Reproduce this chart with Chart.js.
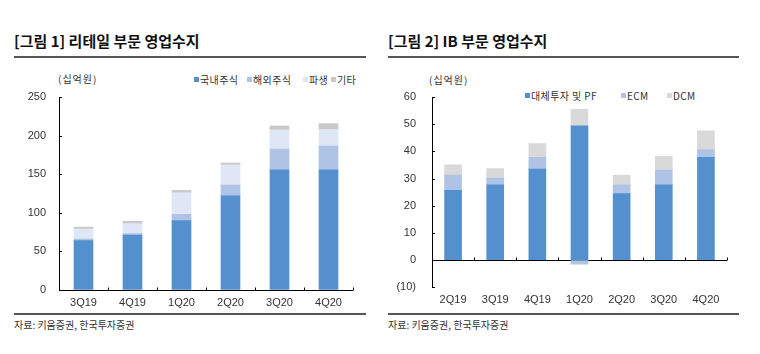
<!DOCTYPE html>
<html>
<head>
<meta charset="utf-8">
<script src="https://cdn.jsdelivr.net/npm/chart.js@4.4.1/dist/chart.umd.min.js"></script>
<style>
  body { margin: 0; background: #fff; }
  #wrap { position: relative; width: 760px; height: 354px; overflow: hidden; font-family: 'Noto Sans CJK KR', 'Liberation Sans', sans-serif; color: #222; }
  .title { position: absolute; top: 31px; font-size: 15px; font-weight: bold; line-height: 20px; color: #111; white-space: nowrap; }
  .rule { position: absolute; height: 2px; background: #555; }
  .unit { position: absolute; font-size: 10px; line-height: 12px; color: #333; letter-spacing: 1px; }
  .src { position: absolute; top: 318px; font-size: 10px; line-height: 14px; color: #333; }
  .leg { position: absolute; font-size: 10px; line-height: 12px; color: #333; white-space: nowrap; letter-spacing: 0.4px; }
  .leg i { display: inline-block; width: 5px; height: 5px; margin-right: 1px; vertical-align: 2px; }
  .box { position: absolute; top: 60px; width: 380px; height: 250px; }
  canvas { display: block; }
</style>
</head>
<body>
<div id="wrap">
  <div class="title" style="left:14px">[그림 1] 리테일 부문 영업수지</div>
  <div class="title" style="left:388px">[그림 2] IB 부문 영업수지</div>
  <div class="rule" style="left:14px;top:56px;width:352px"></div>
  <div class="rule" style="left:388px;top:56px;width:351px"></div>

  <div class="unit" style="left:58px;top:73px">(십억원)</div>
  <div class="unit" style="left:429px;top:74px">(십억원)</div>

  <div class="leg" style="left:194px;top:74px"><i style="background:#5490ce"></i>국내주식</div>
  <div class="leg" style="left:247px;top:74px"><i style="background:#aec3e6"></i>해외주식</div>
  <div class="leg" style="left:303px;top:74px"><i style="background:#dfe7f6"></i>파생</div>
  <div class="leg" style="left:331px;top:74px"><i style="background:#c9c9c9"></i>기타</div>

  <div class="leg" style="left:525px;top:90px"><i style="background:#5490ce"></i>대체투자 및 PF</div>
  <div class="leg" style="left:621px;top:90px"><i style="background:#aec3e6"></i>ECM</div>
  <div class="leg" style="left:667px;top:90px"><i style="background:#d9d9d9"></i>DCM</div>

  <div class="box" style="left:0"><canvas id="retailChart" width="380" height="250"></canvas></div>
  <div class="box" style="left:380px"><canvas id="ibChart" width="380" height="250"></canvas></div>

  <div class="rule" style="left:14px;top:313px;width:352px"></div>
  <div class="rule" style="left:388px;top:313px;width:351px"></div>
  <div class="src" style="left:14px">자료: 키움증권, 한국투자증권</div>
  <div class="src" style="left:388px">자료: 키움증권, 한국투자증권</div>
</div>

<script>
// ------------------------Data--------------------------------
const retailLabels = ['3Q19', '4Q19', '1Q20', '2Q20', '3Q20', '4Q20']
const retailDomestic = [64, 71, 90, 122, 155.5, 155.5]
const retailOverseas = [2, 2, 8, 14, 27, 31]
const retailDerivative = [13, 13, 28, 26, 25, 21.5]
const retailOther = [2.5, 3, 3, 2.5, 5, 7.5]
const retailTicks = [0, 50, 100, 150, 200, 250]

const ibLabels = ['2Q19', '3Q19', '4Q19', '1Q20', '2Q20', '3Q20', '4Q20']
const ibAltPf = [25.7, 27.7, 33.5, 49.4, 24.5, 27.7, 37.8]
const ibEcm = [5.6, 2.5, 4.3, -1.5, 3.2, 5.4, 2.9]
const ibDcm = [3.8, 3.5, 5.1, 6.1, 3.6, 5.2, 6.9]
const ibTicks = [-10, 0, 10, 20, 30, 40, 50, 60]

Chart.defaults.font.family = "'Liberation Sans', Arial, sans-serif"
Chart.defaults.color = '#333'

// ------------------------Small inward tick marks------------------------
const axisTicks = {
  id: 'axisTicks',
  afterDatasetsDraw(chart) {
    const { ctx, scales: { x, y } } = chart
    const base = Math.round(y.getPixelForValue(Math.max(0, y.min))) + 0.5
    ctx.save()
    ctx.strokeStyle = '#000'
    ctx.lineWidth = 1
    ctx.beginPath()
    y.ticks.forEach((t) => {
      const py = Math.round(y.getPixelForValue(t.value)) + 0.5
      ctx.moveTo(x.left, py)
      ctx.lineTo(x.left + 3, py)
    })
    const n = x.ticks.length
    for (let i = 1; i <= n; i++) {
      const px = i < n ? (x.getPixelForValue(i - 1) + x.getPixelForValue(i)) / 2 : x.right
      ctx.moveTo(Math.round(px) + 0.5, base)
      ctx.lineTo(Math.round(px) + 0.5, base - 3)
    }
    ctx.stroke()
    ctx.restore()
  }
}

// ------------------------Chart builder------------------------------------
const makeChart = (id, labels, datasets, ticks, axisWidth, padRight, barW, labelPad, fmt) => {
  return new Chart(document.getElementById(id), {
    type: 'bar',
    data: { labels, datasets },
    options: {
      responsive: false,
      animation: false,
      layout: { padding: { top: 37, right: padRight, left: 0, bottom: 0 } },
      plugins: { legend: { display: false }, tooltip: { enabled: false } },
      datasets: { bar: { barThickness: barW } },
      scales: {
        x: {
          stacked: true,
          grid: { display: false, drawTicks: false },
          border: { display: false },
          ticks: { font: { size: 11 }, padding: 6, color: '#333' },
          afterFit: (s) => { s.height = 20 }
        },
        y: {
          stacked: true,
          min: ticks[0],
          max: ticks[ticks.length - 1],
          afterBuildTicks: (s) => { s.ticks = ticks.map((v) => ({ value: v })) },
          grid: {
            drawTicks: false,
            color: (c) => (c.tick && c.tick.value === 0 ? '#000' : 'rgba(0,0,0,0)'),
            lineWidth: 1
          },
          border: { display: true, color: '#000', width: 1 },
          ticks: { font: { size: 11 }, padding: labelPad, color: '#333', callback: fmt },
          afterFit: (s) => { s.width = axisWidth }
        }
      }
    },
    plugins: [axisTicks]
  })
}

makeChart('retailChart', retailLabels, [
  { data: retailDomestic, backgroundColor: '#5490ce' },
  { data: retailOverseas, backgroundColor: '#aec3e6' },
  { data: retailDerivative, backgroundColor: '#dfe7f6' },
  { data: retailOther, backgroundColor: '#c9c9c9' }
], retailTicks, 59, 27, 19, 13, (v) => v)

makeChart('ibChart', ibLabels, [
  { data: ibAltPf, backgroundColor: '#5490ce' },
  { data: ibEcm, backgroundColor: '#aec3e6' },
  { data: ibDcm, backgroundColor: '#d9d9d9' }
], ibTicks, 52, 33, 17, 16, (v) => (v < 0 ? `(${-v})` : v))
</script>
</body>
</html>
